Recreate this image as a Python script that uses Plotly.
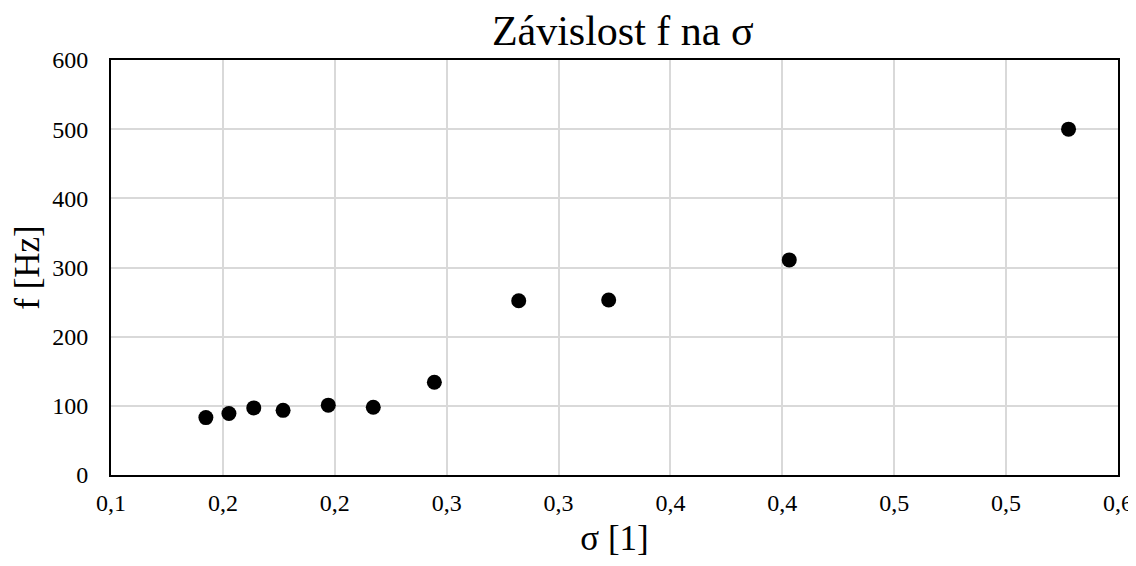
import plotly.graph_objects as go

# sigma [1] and f [Hz]
sigma = [0.1424, 0.1527, 0.1638, 0.1769, 0.1971, 0.2172, 0.2445, 0.2822, 0.3224, 0.4031, 0.5279]
freq = [83, 89, 97, 93.5, 101, 98, 134, 252, 253, 311, 500]

# Excel-style axis ticks (step 0.05 shown with one decimal)
x_ticks = [0.1, 0.15, 0.2, 0.25, 0.3, 0.35, 0.4, 0.45, 0.5, 0.55]
x_labels = ["0,1", "0,2", "0,2", "0,3", "0,3", "0,4", "0,4", "0,5", "0,5", "0,6"]
y_ticks = [0, 100, 200, 300, 400, 500, 600]

SERIF = "Liberation Serif, Times New Roman, serif"
GRID = "#d9d9d9"

fig = go.Figure()
fig.add_trace(go.Scatter(
    x=sigma, y=freq, mode="markers",
    marker=dict(color="black", size=15),
    showlegend=False,
))

# page body adds an 8px margin, so the figure is sized to fit the window without scrollbars
fig.update_layout(
    width=1128, height=550,
    paper_bgcolor="white", plot_bgcolor="white",
    margin=dict(l=103, r=18, t=52, b=83),
    font=dict(family=SERIF, color="black"),
    title=dict(text="Závislost f na σ", x=0.545, xanchor="center",
               y=0.959, yanchor="middle", font=dict(size=42, family=SERIF)),
    xaxis=dict(
        range=[0.1, 0.55], tickvals=x_ticks, ticktext=x_labels,
        showgrid=True, gridcolor=GRID, gridwidth=1.5,
        showline=True, linecolor="black", linewidth=2, mirror=True,
        zeroline=False, ticks="", ticklabelstandoff=5,
        ticklabeloverflow="allow",
        tickfont=dict(size=24, family=SERIF),
        automargin=False,
        title=dict(text="σ [1]", font=dict(size=35, family=SERIF), standoff=19),
    ),
    yaxis=dict(
        range=[0, 600], tickvals=y_ticks,
        showgrid=True, gridcolor=GRID, gridwidth=1.5,
        showline=True, linecolor="black", linewidth=2, mirror=True,
        zeroline=False, ticks="", ticklabelstandoff=16,
        tickfont=dict(size=24, family=SERIF),
        automargin=False,
        title=dict(text="f [Hz]", font=dict(size=35, family=SERIF), standoff=8),
    ),
)

fig.write_html("out.html")
